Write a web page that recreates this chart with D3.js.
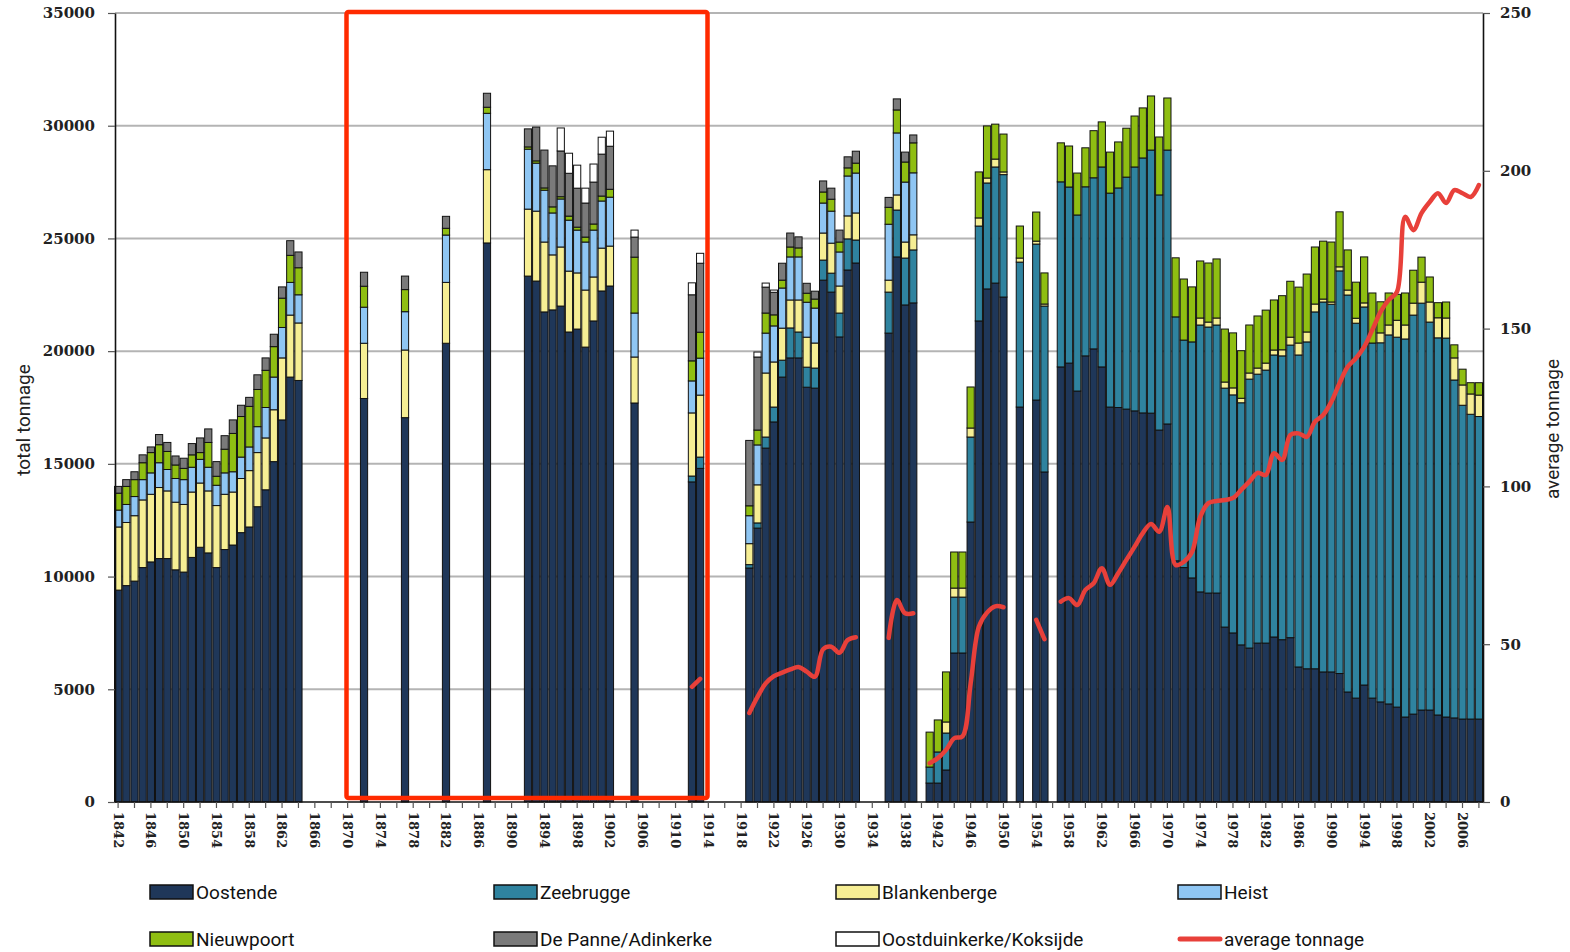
<!DOCTYPE html>
<html><head><meta charset="utf-8">
<script src="https://cdn.jsdelivr.net/npm/d3@7"></script>
<style>body{margin:0;background:#fff}svg{display:block}</style>
</head><body><svg id="chart" width="1570" height="952"></svg>
<script>
// ---------- DATA ----------
const years = [
 1842,1843,1844,1845,1846,1847,1848,1849,1850,1851,1852,1853,1854,1855,1856,1857,1858,1859,1860,1861,1862,1863,1864,
 1872,1877,1882,1887,
 1892,1893,1894,1895,1896,1897,1898,1899,1900,1901,1902,
 1905,1912,1913,
 1919,1920,1921,1922,1923,1924,1925,1926,1927,1928,1929,1930,1931,1932,
 1936,1937,1938,1939,
 1941,1942,1943,1944,1945,1946,1947,1948,1949,1950,
 1952,1954,1955,
 1957,1958,1959,1960,1961,1962,1963,1964,1965,1966,1967,1968,1969,1970,1971,1972,1973,1974,1975,1976,
 1977,1978,1979,1980,1981,1982,1983,1984,1985,1986,1987,1988,1989,1990,1991,1992,1993,1994,1995,1996,
 1997,1998,1999,2000,2001,2002,2003,2004,2005,2006,2007,2008
];
const oostende = [
 9400,9600,9800,10400,10650,10800,10800,10300,10200,10850,11300,11050,10400,11200,11400,11950,12200,13100,13850,15100,16950,18850,18700,
 17900,17050,20350,24800,
 23330,23110,21740,21830,22000,20850,20980,20180,21340,22670,22890,
 17700,14200,14800,
 10380,12150,15700,16860,18850,19700,19700,18400,18360,23150,22620,20630,23600,23910,
 20800,24180,22050,22140,
 840,840,1420,6610,6610,12420,21340,22760,23020,22400,
 17520,17830,14640,
 19300,19470,18230,19790,20100,19300,17520,17500,17430,17350,17260,17250,16500,16770,10700,10400,9940,9320,9270,9270,
 7760,7500,6970,6830,7050,7050,7320,7200,7290,5990,5910,5910,5770,5770,5700,4880,4610,5190,4610,4440,
 4350,4210,3770,3900,4080,4080,3860,3770,3730,3680,3680,3680
];
const zeebrugge = [
 0,0,0,0,0,0,0,0,0,0,0,0,0,0,0,0,0,0,0,0,0,0,0,
 0,0,0,0,
 0,0,0,0,0,0,0,0,0,0,0,
 0,260,500,
 150,230,490,660,750,1330,1150,890,890,890,840,1060,1380,1020,
 1820,2080,2080,2350,
 710,1380,1640,2480,2480,3770,4210,4700,5150,5430,
 6430,6920,7360,
 8210,7810,7810,7500,7590,8870,9490,9740,10290,10820,11310,11670,10430,12150,10820,10090,10470,11840,11800,11890,
 10600,10560,10740,11930,11930,12110,12510,12590,12980,13840,14500,15830,16410,16310,17860,17610,16630,16770,15750,15930,
 16370,16410,16770,17700,18050,17210,16730,16810,14990,13920,13520,13420
];
const blankenberge = [
 2800,2800,2900,3000,3000,3150,3000,3000,3000,2900,2850,2750,2750,2450,2350,2400,2500,2400,2300,2300,2750,2750,2550,
 2450,3000,2700,3250,
 2970,3100,3100,2440,2620,2700,2490,2530,1950,1900,1770,
 2040,2800,2750,
 930,1690,2840,2000,1420,1240,1420,1330,1110,1200,1330,1200,1020,1200,
 530,670,710,670,
 0,0,490,400,400,400,360,220,350,120,
 180,130,90,
 0,0,0,0,0,0,0,0,0,0,0,0,0,0,0,0,0,310,220,310,
 270,310,200,270,270,310,220,270,350,530,440,350,130,100,180,220,220,180,0,440,
 440,750,620,530,930,890,890,890,980,900,900,950
];
const heist = [
 750,800,850,900,950,1100,950,1050,1100,1100,1050,1050,900,950,900,950,1050,1150,1350,1450,1350,1450,1250,
 1600,1700,2100,2500,
 2660,2130,2300,1860,2130,2260,1900,2130,2080,2090,2170,
 1950,1420,1640,
 1240,1770,1770,1600,1780,1910,1910,1550,1550,1330,1420,1510,1770,1770,
 2480,2750,2660,2750,
 0,0,0,0,0,0,0,0,0,0,
 0,0,0,
 0,0,0,0,0,0,0,0,0,0,0,0,0,0,0,0,0,0,0,0,
 0,0,0,0,0,0,0,0,0,0,0,0,0,0,0,0,0,0,0,0,
 0,0,0,0,0,0,0,0,0,0,0,0
];
const nieuwpoort = [
 750,800,750,750,900,800,800,600,500,550,300,1100,400,1050,1700,1800,1800,1650,1650,1350,1300,1200,1200,
 930,980,300,270,
 100,100,100,270,100,180,130,220,270,220,350,
 2480,890,1150,
 440,660,890,490,350,440,400,400,400,490,530,440,360,440,
 750,1020,890,1330,
 1550,1420,2220,1600,1600,1820,2040,2310,1550,1680,
 1420,1290,1380,
 1730,1820,1860,1730,2090,2000,1820,2040,2170,2260,2220,2400,2570,2310,2620,2710,2440,2530,2620,2620,
 2350,2440,2110,2130,2310,2350,2220,2400,2480,2480,2570,2530,2570,2660,2440,1780,1600,2040,2220,1380,
 1420,1150,1420,1460,1110,1110,670,710,580,700,500,550
];
const dePanne = [
 300,300,350,350,250,450,400,400,450,500,650,600,650,600,600,500,400,650,550,550,500,650,700,
 620,600,530,620,
 800,1500,1680,1820,2030,1900,1730,1510,1860,1860,1910,
 890,2930,3060,
 2900,3240,1150,1000,750,620,490,440,350,490,490,530,490,530,
 440,490,440,350,
 0,0,0,0,0,0,0,0,0,0,
 0,0,0,
 0,0,0,0,0,0,0,0,0,0,0,0,0,0,0,0,0,0,0,0,
 0,0,0,0,0,0,0,0,0,0,0,0,0,0,0,0,0,0,0,0,
 0,0,0,0,0,0,0,0,0,0,0,0
];
const oostduinkerke = [
 0,0,0,0,0,0,0,0,0,0,0,0,0,0,0,0,0,0,0,0,0,0,0,
 0,0,0,0,
 0,0,0,0,1020,890,1020,660,800,750,670,
 310,530,440,
 0,220,180,100,0,0,0,0,0,0,0,0,0,0,
 0,0,0,0,
 0,0,0,0,0,0,0,0,0,0,
 0,0,0,
 0,0,0,0,0,0,0,0,0,0,0,0,0,0,0,0,0,0,0,0,
 0,0,0,0,0,0,0,0,0,0,0,0,0,0,0,0,0,0,0,0,
 0,0,0,0,0,0,0,0,0,0,0,0
];
const averageTonnage = [
 null,null,null,null,null,null,null,null,null,null,null,null,null,null,null,null,null,null,null,null,null,null,null,
 null,null,null,null,
 null,null,null,null,null,null,null,null,null,null,null,
 null,36.5,39.0,
 28.2,33.3,37.6,39.9,41.0,42.0,42.8,41.3,39.7,48.4,49.2,47.3,51.3,52.2,
 52.0,64.0,59.8,59.8,
 12.3,13.9,16.5,20.2,20.8,37.6,55.5,60.0,62.0,61.7,
 null,57.7,51.6,
 63.5,64.6,62.4,67.2,69.3,74.1,68.8,72.5,76.7,80.9,85.2,88.1,85.6,93.5,75.1,76.1,79.2,90.3,94.7,95.4,
 95.7,96.3,98.9,101.5,104.3,103.6,110.5,108.4,116.3,116.8,115.7,120.5,122.6,126.8,132.7,137.9,140.6,144.2,149.6,155.3,
 159.1,161.6,185.4,181.2,186.6,190.1,192.9,189.8,193.9,192.9,191.7,195.5
];
const xTickLabels = [1842,1846,1850,1854,1858,1862,1866,1870,1874,1878,1882,1886,1890,1894,1898,1902,1906,1910,1914,
 1918,1922,1926,1930,1934,1938,1942,1946,1950,1954,1958,1962,1966,1970,1974,1978,1982,1986,1990,1994,1998,2002,2006];
const leftTicks = [0,5000,10000,15000,20000,25000,30000,35000];
const rightTicks = [0,50,100,150,200,250];
const seriesNames = ["Oostende","Zeebrugge","Blankenberge","Heist","Nieuwpoort","De Panne/Adinkerke","Oostduinkerke/Koksijde"];
const seriesValues = [oostende,zeebrugge,blankenberge,heist,nieuwpoort,dePanne,oostduinkerke];
const colors = ["#1f3759","#2f839f","#f6ee94","#8fc6f3","#8fbe12","#7a7a7a","#ffffff"];

// ---------- CHART ----------
const svg = d3.select("#chart");
const L = 115, R = 1483, T = 13, B = 802;
const allYears = d3.range(1842, 2009);
const x = d3.scaleBand().domain(allYears).range([114, R]).paddingInner(0.0);
const y = d3.scaleLinear().domain([0, 35000]).range([B, T]);
const y2 = d3.scaleLinear().domain([0, 250]).range([B, T]);

// gridlines
svg.append("g").selectAll("line").data(leftTicks.filter(v => v > 0)).join("line")
  .attr("x1", L).attr("x2", R).attr("y1", d => y(d)).attr("y2", d => y(d))
  .attr("stroke", "#b4b4b4").attr("stroke-width", 2);

// stacked bars
const rows = years.map((yr, i) => {
  const o = { year: yr };
  seriesNames.forEach((n, k) => o[n] = seriesValues[k][i]);
  return o;
});
const stacked = d3.stack().keys(seriesNames)(rows);
const bw = x.bandwidth();
svg.append("g").selectAll("g").data(stacked).join("g")
  .attr("fill", (d, i) => colors[i])
  .selectAll("rect").data(d => d.filter(s => s[1] - s[0] > 0)).join("rect")
  .attr("x", d => x(d.data.year) + 0.5)
  .attr("width", bw - 1)
  .attr("y", d => y(d[1]))
  .attr("height", d => y(d[0]) - y(d[1]))
  .attr("stroke", "#111").attr("stroke-width", 1);

// axes
const numFont = "'DejaVu Serif', serif";
const gl = svg.append("g").attr("transform", `translate(${L},0)`)
  .call(d3.axisLeft(y).tickValues(leftTicks).tickFormat(d3.format("d")).tickSize(7).tickSizeOuter(0).tickPadding(13));
const gr = svg.append("g").attr("transform", `translate(${R},0)`)
  .call(d3.axisRight(y2).tickValues(rightTicks).tickFormat(d3.format("d")).tickSize(7).tickSizeOuter(0).tickPadding(10));
const gb = svg.append("g").attr("transform", `translate(0,${B})`)
  .call(d3.axisBottom(x).tickValues(allYears.filter(v => v % 2 === 0)).tickSize(6).tickSizeOuter(0)
    .tickFormat(d => xTickLabels.includes(d) ? String(d) : ""));
gb.select(".domain").attr("d", `M${L},0H${R}`);
[gl, gr, gb].forEach(g => {
  g.select(".domain").attr("stroke", "#111").attr("stroke-width", 1.6);
  g.selectAll(".tick line").attr("stroke", "#555").attr("stroke-width", 1.2);
  g.selectAll("text").attr("font-family", numFont).attr("font-weight", "bold").attr("fill", "#222");
});
gl.selectAll("text").attr("font-size", 15);
gr.selectAll("text").attr("font-size", 15);
gb.selectAll("text").attr("font-size", 13)
  .attr("transform", "rotate(90)").attr("x", 10).attr("y", 0).attr("dy", "0.35em")
  .style("text-anchor", "start");

// average tonnage line
const avgMap = new Map(years.map((yr, i) => [yr, averageTonnage[i]]));
const lineData = allYears.map(yr => ({ year: yr, v: avgMap.has(yr) ? avgMap.get(yr) : null }));
svg.append("path").datum(lineData)
  .attr("fill", "none").attr("stroke", "#e8403a").attr("stroke-width", 4.5)
  .attr("stroke-linecap", "round").attr("stroke-linejoin", "round")
  .attr("d", d3.line().defined(d => d.v != null)
    .x(d => x(d.year) + bw / 2).y(d => y2(d.v)).curve(d3.curveCatmullRom.alpha(0.5)));

// red highlight rectangle
svg.append("rect").attr("x", 346.5).attr("y", 12).attr("width", 361).attr("height", 786)
  .attr("rx", 2).attr("fill", "none").attr("stroke", "#ff2a00").attr("stroke-width", 4.5);

// axis titles
const txtFont = "Roboto, 'Open Sans', sans-serif";
svg.append("text").attr("transform", "translate(30,420) rotate(-90)").attr("text-anchor", "middle")
  .attr("font-family", txtFont).attr("font-size", 19).attr("fill", "#222").text("total tonnage");
svg.append("text").attr("transform", "translate(1559,429) rotate(-90)").attr("text-anchor", "middle")
  .attr("font-family", txtFont).attr("font-size", 19).attr("fill", "#222").text("average tonnage");

// legend
const legendItems = seriesNames.map((n, i) => ({ name: n, color: colors[i], type: "box" }))
  .concat([{ name: "average tonnage", color: "#e8403a", type: "line" }]);
const colX = [150, 494, 836, 1178], rowY = [885, 932];
const lg = svg.append("g").selectAll("g").data(legendItems).join("g")
  .attr("transform", (d, i) => `translate(${colX[i % 4]},${rowY[Math.floor(i / 4)]})`);
lg.filter(d => d.type === "box").append("rect")
  .attr("x", 0).attr("y", 0).attr("width", 43).attr("height", 14)
  .attr("fill", d => d.color).attr("stroke", "#111").attr("stroke-width", 1.5);
lg.filter(d => d.type === "line").append("line")
  .attr("x1", 2).attr("x2", 42).attr("y1", 7).attr("y2", 7)
  .attr("stroke", d => d.color).attr("stroke-width", 5).attr("stroke-linecap", "round");
lg.append("text").attr("x", 46).attr("y", 7).attr("dy", "0.36em")
  .attr("font-family", txtFont).attr("font-size", 19).attr("fill", "#111").text(d => d.name);
</script></body></html>
